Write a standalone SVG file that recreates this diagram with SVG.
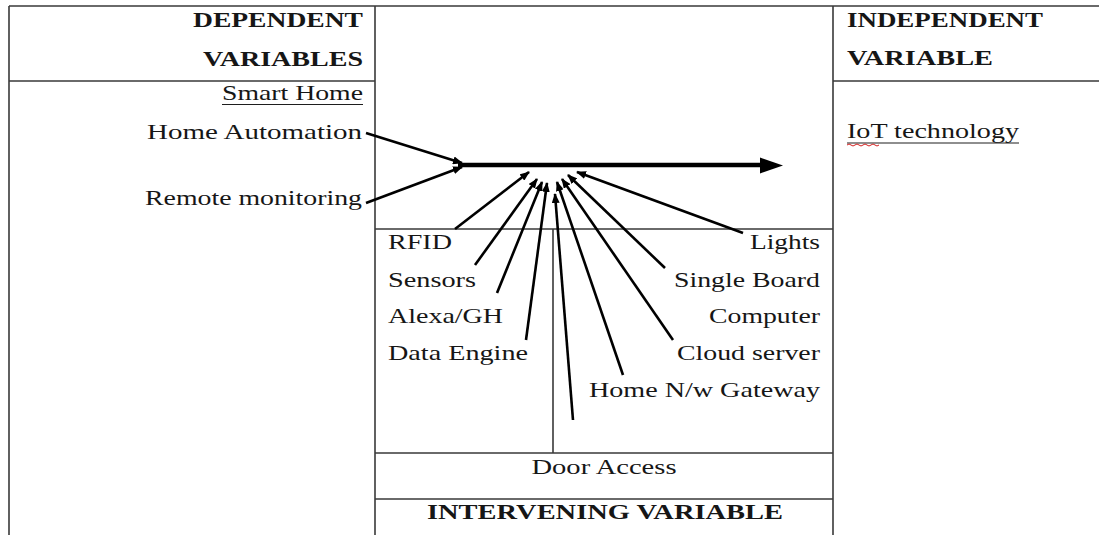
<svg xmlns="http://www.w3.org/2000/svg" width="1099" height="535" viewBox="0 0 1099 535">
  <style>
    .grid { stroke: #3a3a3a; stroke-width: 1.6; fill: none; }
    .t { font-family: "Liberation Serif", "Times New Roman", serif; font-size: 21px; fill: #161616; }
    .b { font-weight: bold; }
    .r { text-anchor: end; }
    .c { text-anchor: middle; }
    .u { stroke: #1e1e1e; stroke-width: 1.2; }
    .link { stroke: #000; stroke-width: 2.6; fill: none; marker-end: url(#head); }
    .main { stroke: #000; stroke-width: 4.5; fill: none; }
  </style>
  <defs>
    <marker id="head" viewBox="0 0 10 8" refX="9" refY="4" markerWidth="10" markerHeight="8" markerUnits="userSpaceOnUse" orient="auto">
      <path d="M0,0 L10,4 L0,8 Z" fill="#000"/>
    </marker>
  </defs>
  <rect width="1099" height="535" fill="#fff"/>

  <!-- table frame -->
  <g id="table">
    <path class="grid" d="M9,6 H1099 M9,6 V535 M375,6 V535 M833,6 V535"/>
    <path class="grid" d="M9,81 H375 M833,81 H1099"/>
    <path class="grid" d="M375,229 H833 M553,229 V453 M375,453 H833 M375,499 H833"/>
  </g>

  <!-- dependent variables column -->
  <g id="dependent-header">
    <text class="t b r" x="363" y="27" textLength="170" lengthAdjust="spacingAndGlyphs">DEPENDENT</text>
    <text class="t b r" x="363" y="66" textLength="160" lengthAdjust="spacingAndGlyphs">VARIABLES</text>
  </g>
  <g id="smart-home">
    <text class="t r" x="363" y="100" textLength="141" lengthAdjust="spacingAndGlyphs">Smart Home</text>
    <line class="u" x1="222" y1="104.5" x2="363" y2="104.5"/>
  </g>
  <g id="home-automation">
    <text class="t r" x="362" y="139" textLength="215" lengthAdjust="spacingAndGlyphs">Home Automation</text>
  </g>
  <g id="remote-monitoring">
    <text class="t r" x="362" y="205" textLength="217" lengthAdjust="spacingAndGlyphs">Remote monitoring</text>
  </g>

  <!-- independent variable column -->
  <g id="independent-header">
    <text class="t b" x="847" y="27" textLength="196" lengthAdjust="spacingAndGlyphs">INDEPENDENT</text>
    <text class="t b" x="847" y="65" textLength="146" lengthAdjust="spacingAndGlyphs">VARIABLE</text>
  </g>
  <g id="iot-technology">
    <text class="t" x="847" y="138" textLength="172" lengthAdjust="spacingAndGlyphs">IoT technology</text>
    <line class="u" x1="847" y1="143" x2="1019" y2="143"/>
    <path d="M847,145 q2,-2 4,0 t4,0 t4,0 t4,0 t4,0 t4,0 t4,0 t4,0" stroke="#d42020" stroke-width="1" fill="none"/>
  </g>

  <!-- intervening variable column -->
  <g id="rfid"><text class="t" x="388" y="249" textLength="64" lengthAdjust="spacingAndGlyphs">RFID</text></g>
  <g id="sensors"><text class="t" x="388" y="287" textLength="88" lengthAdjust="spacingAndGlyphs">Sensors</text></g>
  <g id="alexa"><text class="t" x="388" y="323" textLength="115" lengthAdjust="spacingAndGlyphs">Alexa/GH</text></g>
  <g id="data-engine"><text class="t" x="388" y="360" textLength="140" lengthAdjust="spacingAndGlyphs">Data Engine</text></g>
  <g id="lights"><text class="t r" x="820" y="249" textLength="70" lengthAdjust="spacingAndGlyphs">Lights</text></g>
  <g id="single-board">
    <text class="t r" x="820" y="287" textLength="146" lengthAdjust="spacingAndGlyphs">Single Board</text>
    <text class="t r" x="820" y="323" textLength="111" lengthAdjust="spacingAndGlyphs">Computer</text>
  </g>
  <g id="cloud-server"><text class="t r" x="820" y="360" textLength="143" lengthAdjust="spacingAndGlyphs">Cloud server</text></g>
  <g id="gateway"><text class="t r" x="820" y="397" textLength="231" lengthAdjust="spacingAndGlyphs">Home N/w Gateway</text></g>
  <g id="door-access"><text class="t c" x="604" y="474" textLength="145" lengthAdjust="spacingAndGlyphs">Door Access</text></g>
  <g id="intervening-header"><text class="t b c" x="605" y="519" textLength="356" lengthAdjust="spacingAndGlyphs">INTERVENING VARIABLE</text></g>

  <!-- connectors -->
  <g id="connectors">
    <line class="main" x1="458" y1="165" x2="762" y2="165"/>
    <path d="M760,157.5 L783,165.5 L760,173.5 Z" fill="#000"/>
    <line class="link" x1="366" y1="133" x2="462" y2="163"/>
    <line class="link" x1="366" y1="203" x2="462" y2="167"/>
    <line class="link" x1="455" y1="229" x2="529" y2="172"/>
    <line class="link" x1="475" y1="265" x2="537" y2="179"/>
    <line class="link" x1="497" y1="293" x2="542" y2="182"/>
    <line class="link" x1="526" y1="340" x2="547" y2="183"/>
    <line class="link" x1="573" y1="420" x2="555" y2="194"/>
    <line class="link" x1="623" y1="375" x2="557" y2="182"/>
    <line class="link" x1="673" y1="340" x2="562" y2="179"/>
    <line class="link" x1="665" y1="268" x2="568" y2="175"/>
    <line class="link" x1="743" y1="233" x2="577" y2="172"/>
  </g>
</svg>
